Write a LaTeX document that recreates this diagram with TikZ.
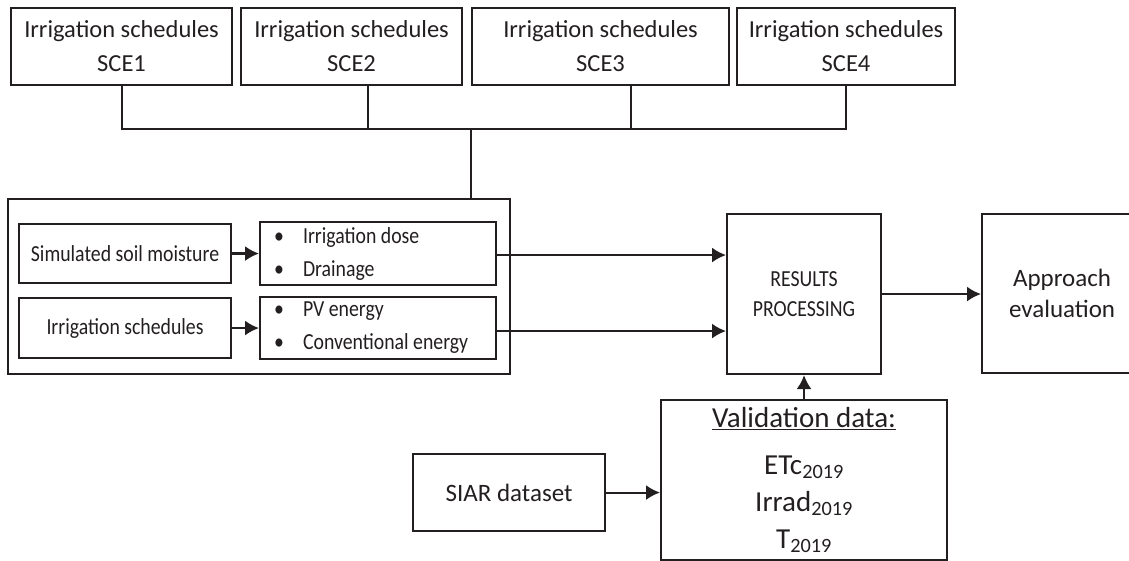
\documentclass[tikz,border=0pt]{standalone}
\usepackage{fontspec}
\setmainfont{Carlito}
\newfontfamily\condfont[FakeStretch=0.86]{Carlito}
\usetikzlibrary{arrows.meta,positioning}
\definecolor{ink}{RGB}{35,31,32}
\newcommand\fsTop{\fontsize{24.5}{34}\selectfont}
\newcommand\fsIn{\condfont\fontsize{23}{33}\selectfont}
\newcommand\fsRes{\condfont\fontsize{23}{30}\selectfont}
\newcommand\fsApp{\fontsize{25}{31}\selectfont}
\newcommand\fsVal{\fontsize{29}{37}\selectfont}
\newcommand\bul{\makebox[29pt][l]{\textbullet}}
\tikzset{
  box/.style={draw=ink, line width=2.1pt, inner sep=0pt, align=center, anchor=north west, text=ink},
  conn/.style={draw=ink, line width=2.1pt},
  arr/.style={conn, -{Latex[length=14pt,width=15pt]}},
}
\begin{document}
\begin{tikzpicture}[x=1pt,y=-1pt]
\useasboundingbox (0,0) rectangle (1129,561);
%Szenarien oben
\node[box, font=\fsTop, minimum width=221pt, minimum height=77pt] (sce1) at (10,7) {Irrigation schedules\\SCE1};
\node[box, font=\fsTop, minimum width=221pt, minimum height=77pt] (sce2) at (240,7) {Irrigation schedules\\SCE2};
\node[box, font=\fsTop, minimum width=257pt, minimum height=77pt] (sce3) at (471,7) {Irrigation schedules\\SCE3};
\node[box, font=\fsTop, minimum width=218pt, minimum height=77pt] (sce4) at (736,7) {Irrigation schedules\\SCE4};
%Modellblock
\node[box, minimum width=502pt, minimum height=175pt] (model) at (7,198) {};
\node[box, font=\fsIn, minimum width=212pt, minimum height=59pt] (sim) at (18,223) {Simulated soil moisture};
\node[box, font=\fsIn, minimum width=212pt, minimum height=60pt] (sched) at (18,297) {Irrigation schedules};
\node[box, font=\fsIn, minimum width=236pt, minimum height=63pt, inner xsep=14pt, text width=208pt, align=flush left] (dose) at (259,221) {\bul Irrigation dose\\\bul Drainage};
\node[box, font=\fsIn, minimum width=236pt, minimum height=62pt, inner xsep=14pt, text width=208pt, align=flush left] (energy) at (259,296) {\bul PV energy\\\bul Conventional energy};
%Auswertung
\node[box, font=\fsRes, minimum width=154pt, minimum height=160pt] (results) at (726,213) {RESULTS\\PROCESSING};
\node[box, font=\fsApp, minimum width=160pt, minimum height=159pt] (approach) at (981,213) {Approach\\evaluation};
\node[box, font=\fsVal, minimum width=286pt, minimum height=160pt] (valid) at (660,399) {\underline{Validation data:}\\[10pt]ETc\textsubscript{2019}\\Irrad\textsubscript{2019}\\T\textsubscript{2019}};
\node[box, font=\fsApp, minimum width=192pt, minimum height=77pt] (siar) at (412,453) {SIAR dataset};
%Verbindungen
\coordinate (bus) at (471,129);
\draw[conn] (sce1.south) |- (bus) -| (sce4.south);
\draw[conn] ([xshift=16pt]sce2.south) |- (bus);
\draw[conn] ([xshift=30.5pt]sce3.south) |- (bus);
\draw[conn] (bus) -- (bus |- model.north);
\draw[arr] (sim.east) -- (sim.east -| dose.west);
\draw[arr] (sched.east) -- (sched.east -| energy.west);
\draw[arr] ([yshift=-1.5pt]dose.east) -- ([yshift=-1.5pt]dose.east -| results.west);
\draw[arr] ([yshift=-3pt]energy.east) -- ([yshift=-3pt]energy.east -| results.west);
\draw[arr] (results.east) -- (results.east -| approach.west);
\draw[arr] (valid.north) -- (results.south);
\draw[arr] (siar.east) -- (siar.east -| valid.west);
\end{tikzpicture}
\end{document}
